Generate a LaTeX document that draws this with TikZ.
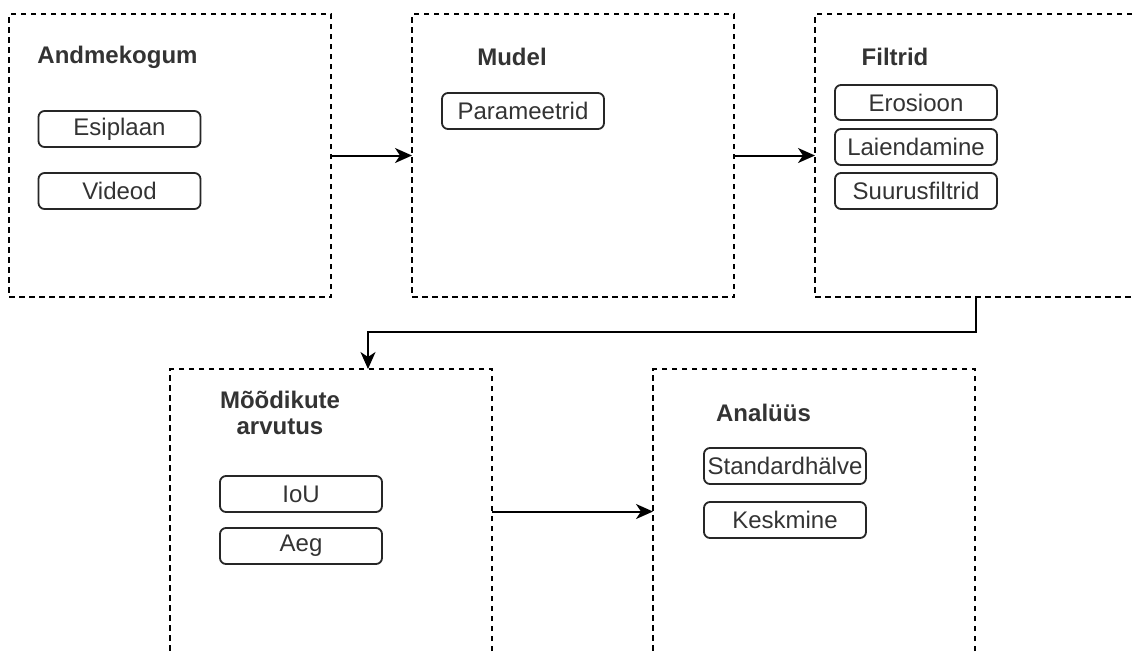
\documentclass[tikz,border=0pt]{standalone}
\usepackage{fontspec}
\setmainfont{Liberation Sans}
\usetikzlibrary{arrows.meta}
\definecolor{txt}{HTML}{333333}
\tikzset{
  stage/.style={draw=black, line width=1.8pt, dash pattern=on 5.5pt off 4.5pt,
    rectangle, minimum width=322pt, minimum height=290pt, anchor=north west,
    outer sep=0pt, inner sep=0pt},
  title/.style={font=\fontsize{24}{26}\selectfont\bfseries, text=txt, align=center, inner sep=0pt},
  item/.style={draw=black!85, line width=1.8pt, rounded corners=6pt, rectangle,
    minimum width=162pt, minimum height=36pt, inner sep=0pt, outer sep=0pt,
    font=\fontsize{24}{26}\selectfont, text=txt},
  arr/.style={draw=black, line width=2pt, -{Stealth[length=17pt,width=15pt,inset=5pt]}}
}
\begin{document}
\begin{tikzpicture}[x=1pt,y=-1pt]
\useasboundingbox (0,0) rectangle (1135,651);
\clip (0,0) rectangle (1135,651);
\fill[white] (0,0) rectangle (1135,651);
% stages
\node[stage, minimum height=283pt] (b1) at (9,14) {};
\node[stage, minimum height=283pt] (b2) at (412,14) {};
\node[stage, minimum height=283pt] (b3) at (815,14) {};
\node[stage] (b4) at (170,369) {};
\node[stage] (b5) at (653,369) {};
% titles
\node[title] (t1) at (117.5,57) {Andmekogum};
\node[title] (t2) at (512,57) {Mudel};
\node[title] (t3) at (895,57) {Filtrid};
\node[title] (t4) at (280,413) {Mõõdikute\\arvutus};
\node[title] (t5) at (763.5,413) {Analüüs};
% items
\node[item] (i1) at (119.5,129) {Esiplaan};
\node[item] (i2) at (119.5,191) {Videod};
\node[item] (i3) at (523,111) {Parameetrid};
\node[item, minimum height=35pt] (i4) at (916,102.5) {Erosioon};
\node[item] (i5) at (916,147) {Laiendamine};
\node[item] (i6) at (916,191) {Suurusfiltrid};
\node[item] (i7) at (301,494) {IoU};
\node[item] (i8) at (301,546) {Aeg};
\node[item] (i9) at (785,466) {Standardhälve};
\node[item] (i10) at (785,520) {Keskmine};
% connectors
\draw[arr] (b1.east) -- (b2.west);
\draw[arr] (b2.east) -- (b3.west);
\draw[arr] (b3.south) -- ++(0,35) -| ([xshift=37pt]b4.north);
\draw[arr] ([yshift=-142.5pt]b4.north east) -- ([yshift=-142.5pt]b5.north west);
\end{tikzpicture}
\end{document}
